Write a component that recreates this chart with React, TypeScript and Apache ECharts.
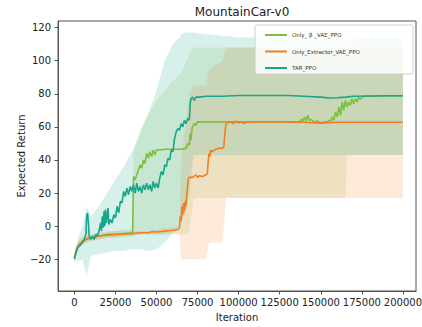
import React, { useEffect, useRef } from "react";
import * as echarts from "echarts";

const xTicks = [0, 25000, 50000, 75000, 100000, 125000, 150000, 175000, 200000];
const yTicks = [-20, 0, 20, 40, 60, 80, 100, 120];

const seriesNames = ["Only_ β _VAE_PPO", "Only_Extractor_VAE_PPO", "TAR_PPO"];
const colors = ["#7dbf3f", "#f47d20", "#17a689"];

// Only_β_VAE_PPO mean
const betaX = [0, 2000, 5000, 10000, 15000, 20000, 25000, 30000, 35000, 35500, 36000, 37000, 38000, 39000, 40000, 41000, 42000, 43000, 44000, 45000, 46000, 47000, 48000, 49000, 50000, 52000, 55000, 60000, 65000, 68000, 69000, 70000, 70500, 71000, 71500, 72000, 73000, 74000, 75000, 80000, 100000, 120000, 137000, 138000, 139000, 140000, 141000, 142000, 143000, 144000, 146000, 148000, 150000, 152000, 154000, 155000, 156000, 157000, 158000, 159000, 160000, 161000, 162000, 163000, 164000, 165000, 166000, 167000, 168000, 169000, 170000, 171000, 172000, 173000, 174000, 175000, 177000, 180000, 190000, 200000];
const betaY = [-19, -13, -9, -7, -6, -5, -5, -4.5, -4, -3, 30, 28, 31, 34, 37, 35, 40, 38, 44, 41, 45, 42, 46, 43, 46, 46, 46.5, 46.5, 46.5, 47, 50, 49, 56, 52, 58, 60, 62, 61, 63, 63, 63, 63, 63, 64.5, 63.5, 66, 63.5, 67, 64, 64.5, 63, 63.5, 62.5, 63, 63, 64, 63.5, 66, 64, 69, 66, 72, 67, 75, 70, 76, 72, 75, 73, 77, 74, 77, 75, 78, 76.5, 78, 78.5, 78.5, 78.8, 78.8];

// Only_Extractor_VAE_PPO mean
const extX = [0, 1000, 2000, 3000, 5000, 8000, 10000, 15000, 20000, 25000, 30000, 35000, 40000, 45000, 48000, 50000, 55000, 60000, 63000, 64000, 64500, 65000, 65500, 66000, 66500, 67000, 67500, 68000, 68500, 69000, 69500, 70000, 72000, 74000, 75000, 76000, 78000, 80000, 81000, 81500, 82000, 82500, 83000, 84000, 86000, 88000, 90000, 91000, 91500, 92000, 92500, 93000, 95000, 97000, 98000, 100000, 102000, 103000, 105000, 110000, 130000, 140000, 150000, 160000, 180000, 200000];
const extY = [-19, -15, -12, -11, -9, -7.5, -7, -6, -5.5, -5, -4.8, -4.5, -4, -4, -3.2, -3.5, -3, -2.5, -2, -1, 6, 3, 12, 7, 14, 9, 15, 12, 20, 25, 29, 29.5, 29.5, 31, 29.5, 30.5, 30, 31, 32, 40, 44, 42, 46, 45, 46.5, 47, 47, 48, 55, 60, 62, 62.5, 63, 62, 63.5, 62.5, 63, 62, 63, 63, 63, 62.8, 62.3, 62.8, 62.8, 62.8];

// TAR_PPO mean
const tarX = [0, 1000, 2000, 3000, 4000, 5000, 6000, 7000, 7500, 8000, 8500, 9000, 10000, 11000, 12000, 13000, 14000, 15000, 16000, 16500, 17000, 17500, 18000, 18500, 19000, 19500, 20000, 20500, 21000, 22000, 23000, 24000, 25000, 26000, 27000, 28000, 29000, 30000, 31000, 32000, 33000, 34000, 35000, 36000, 37000, 38000, 39000, 40000, 41000, 42000, 43000, 44000, 45000, 46000, 47000, 48000, 49000, 50000, 51000, 52000, 53000, 54000, 55000, 56000, 57000, 58000, 59000, 60000, 61000, 62000, 63000, 64000, 65000, 66000, 67000, 68000, 69000, 70000, 70500, 71000, 72000, 73000, 74000, 76000, 80000, 90000, 100000, 130000, 140000, 150000, 155000, 160000, 165000, 170000, 190000, 200000];
const tarY = [-20, -16, -13, -12, -11, -10, -8, -5, 6, 8, 3, -6, -8, -6, -8, -5, -6, -3, 2, -3, 6, -1, 9, 0, 10, 2, 6, 11, 1, 4, 2, 7, 5, 12, 8, 15, 14, 21, 18, 23, 19, 24, 21, 25, 20, 26, 21, 24, 20, 25, 22, 26, 22, 25, 21, 27, 23, 26, 23, 29, 33, 31, 37, 36, 41, 40, 46, 45, 53, 57, 59, 58, 62, 60, 64, 62, 65, 64, 74, 77, 78, 76, 78, 78, 78.5, 78.5, 79, 79, 78.5, 78, 77.5, 77.6, 78, 78.5, 78.8, 78.8];

// shaded spread bands
const bandX = [0, 2500, 5000, 7500, 10000, 15000, 20000, 25000, 30000, 35000, 36000, 40000, 45000, 50000, 55000, 60000, 64000, 65000, 67500, 70000, 72500, 80000, 82000, 90000, 92500, 100000, 120000, 140000, 160000, 165000, 166000, 180000, 200000];
const tarLow = [-22, -21, -20, -30, -18, -17, -16, -15, -15, -14, -14, -14, -15, -14, -10, -4, 0, 2, 8, 20, 43, 43, 43, 43, 43, 43, 43, 43, 43, 43, 43, 43, 43];
const tarHigh = [-17, -6, 0, 12, 6, 12, 20, 28, 36, 45, 47, 56, 68, 82, 100, 110, 114, 116, 117, 117, 117, 116, 116, 115, 115, 114, 114, 113, 113, 113, 113, 114, 114];
const betaLow = [-20, -14, -11, -10, -9, -8, -7, -7, -7, -6, -5, -5, -5, -5, -5, -5, -5, -5, -5, -3, 17, 17, 17, 17, 17, 17, 17, 17, 17, 17, 43, 43, 43];
const betaHigh = [-17, -9, -6, -5, -5, -4, -3, -3, -2, -2, 45, 58, 68, 76, 82, 88, 91, 93, 98, 104, 108, 108, 108, 108, 108, 108, 108, 108, 108, 108, 113, 114, 114];
const extLow = [-20, -14, -11, -10, -9, -8, -7, -7, -6, -6, -6, -5, -5, -5, -5, -4, -4, -20, -20, -20, -20, -20, -10, -10, 17, 17, 17, 17, 17, 17, 17, 17, 17];
const extHigh = [-17, -9, -7, -6, -5, -4, -4, -3, -3, -3, -3, -3, -3, -2, -1, -1, 0, 40, 60, 80, 85, 85, 95, 100, 108, 108, 108, 108, 108, 108, 108, 108, 108];

const bandFills = ["rgba(125,191,63,0.15)", "rgba(244,125,32,0.16)", "rgba(23,166,137,0.17)"];

const zip = (xs: number[], ys: number[]) => xs.map((x, i) => [x, ys[i]]);

function bandSeries(low: number[], high: number[], fill: string) {
  return {
    type: "custom",
    silent: true,
    z: 1,
    data: [[bandX[0], low[0]]],
    renderItem: (_params: any, api: any) => {
      const pts: number[][] = [];
      for (let i = 0; i < bandX.length; i++) pts.push(api.coord([bandX[i], high[i]]));
      for (let i = bandX.length - 1; i >= 0; i--) pts.push(api.coord([bandX[i], low[i]]));
      return { type: "polygon", shape: { points: pts }, style: { fill, stroke: "none" } };
    },
  };
}

function lineSeries(name: string, xs: number[], ys: number[], color: string) {
  return {
    name,
    type: "line",
    z: 3,
    data: zip(xs, ys),
    symbol: "none",
    showSymbol: false,
    lineStyle: { color, width: 1.6 },
    itemStyle: { color },
  };
}

const FONT = "DejaVu Sans";

export default function App() {
  const ref = useRef<HTMLDivElement>(null);
  useEffect(() => {
    if (!ref.current) return;
    const chart = echarts.init(ref.current, undefined, { renderer: "svg" });
    chart.setOption({
      animation: false,
      backgroundColor: "#fff",
      title: {
        text: "MountainCar-v0",
        left: 237,
        textAlign: "center",
        top: 1,
        textStyle: { fontFamily: FONT, fontSize: 12, fontWeight: "normal", color: "#222" },
      },
      grid: {
        left: 58,
        right: 6,
        top: 21,
        bottom: 36,
        show: true,
        borderColor: "#555",
        borderWidth: 1,
        backgroundColor: "transparent",
        outerBoundsMode: "none",
      },
      legend: {
        data: seriesNames,
        orient: "vertical",
        left: 260,
        top: 26,
        icon: "rect",
        itemWidth: 22,
        itemHeight: 2,
        itemGap: 8.5,
        z: 12,
        selectedMode: false,
        textStyle: { fontFamily: FONT, fontSize: 5.5, color: "#333", lineHeight: 8 },
      },
      graphic: [
        {
          type: "rect",
          z: 10,
          shape: { x: 255, y: 25, width: 158, height: 49, r: 2 },
          style: { fill: "rgba(255,255,255,0.85)", stroke: "#d0d0d0", lineWidth: 1 },
        },
      ],
      xAxis: {
        type: "value",
        min: -9950,
        max: 207950,
        name: "Iteration",
        nameLocation: "middle",
        nameGap: 21,
        nameMoveOverlap: false,
        nameTextStyle: { fontFamily: FONT, fontSize: 10, color: "#222" },
        splitLine: { show: false },
        axisLine: { show: true, onZero: false, lineStyle: { color: "#555" } },
        axisTick: { show: true, inside: false, length: 3.5, customValues: xTicks, lineStyle: { color: "#555" } },
        axisLabel: {
          customValues: xTicks,
          margin: 6,
          fontFamily: FONT,
          fontSize: 10,
          color: "#222",
          formatter: (v: number) => String(v),
        },
      },
      yAxis: {
        type: "value",
        min: -39.2,
        max: 124,
        name: "Expected Return",
        nameLocation: "middle",
        nameGap: 32,
        nameMoveOverlap: false,
        nameRotate: 90,
        nameTextStyle: { fontFamily: FONT, fontSize: 10, color: "#222" },
        splitLine: { show: false },
        axisLine: { show: true, onZero: false, lineStyle: { color: "#555" } },
        axisTick: { show: true, inside: false, length: 3.5, customValues: yTicks, lineStyle: { color: "#555" } },
        axisLabel: {
          customValues: yTicks,
          margin: 7,
          fontFamily: FONT,
          fontSize: 10,
          color: "#222",
          formatter: (v: number) => (v < 0 ? "\u2212" + String(-v) : String(v)),
        },
      },
      series: [
        bandSeries(betaLow, betaHigh, bandFills[0]),
        bandSeries(extLow, extHigh, bandFills[1]),
        bandSeries(tarLow, tarHigh, bandFills[2]),
        lineSeries(seriesNames[0], betaX, betaY, colors[0]),
        lineSeries(seriesNames[1], extX, extY, colors[1]),
        lineSeries(seriesNames[2], tarX, tarY, colors[2]),
      ],
    });
    return () => chart.dispose();
  }, []);
  return <div ref={ref} style={{ position: "fixed", left: 0, top: 0, width: 422, height: 327 }} />;
}
